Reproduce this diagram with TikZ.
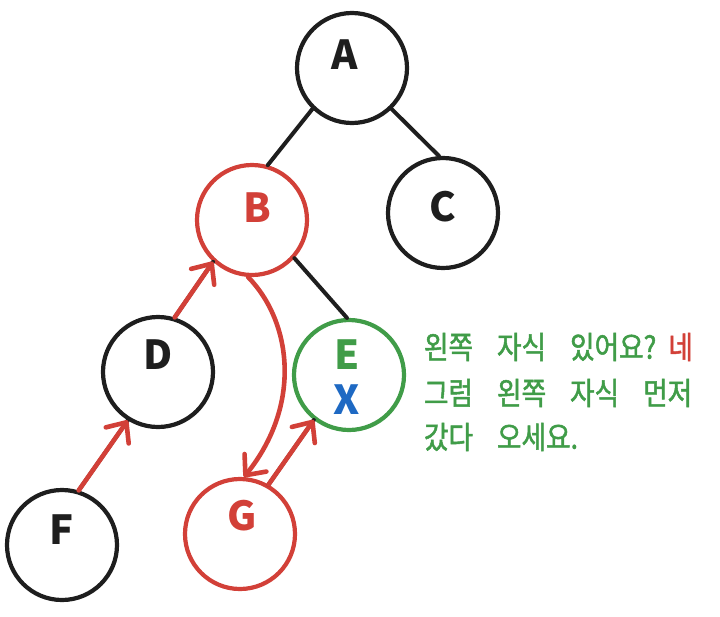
\documentclass[tikz,border=0pt]{standalone}
\usepackage{fontspec}
\usetikzlibrary{arrows.meta}
\newfontfamily\kr{Noto Sans CJK KR}
\newfontfamily\krnote[FakeStretch=0.86,FakeBold=1.6]{Noto Sans CJK KR}
\definecolor{inkblack}{RGB}{30,30,30}
\definecolor{inkred}{RGB}{210,64,56}
\definecolor{inkgreen}{RGB}{64,156,72}
\definecolor{inkblue}{RGB}{30,105,195}
\newcommand\notefont{\krnote\fontsize{31}{32}\selectfont\spaceskip=24pt\relax}

\begin{document}
\begin{tikzpicture}[x=1pt,y=-1pt,line width=4pt,line cap=round,
  tnode/.style={circle,draw=inkblack,line width=4.2pt,minimum size=110pt,inner sep=0pt},
  lbl/.style={font=\kr\bfseries\fontsize{40}{40}\selectfont,inner sep=0pt,text=inkblack},
  walk/.style={draw=inkred,line width=4.6pt,-{Straight Barb[length=16pt,width=28pt,round]}},
  note/.style={anchor=west,inner sep=0pt,text=inkgreen,font=\notefont}]
 \useasboundingbox (0,0) rectangle (720,616);
 % tree nodes
 \node[tnode] (A) at (352,68) {};
 \node[tnode,draw=inkred] (B) at (252,220) {};
 \node[tnode] (C) at (443,213) {};
 \node[tnode] (D) at (158,372) {};
 \node[tnode,draw=inkgreen] (E) at (349,375) {};
 \node[tnode] (F) at (62,545) {};
 \node[tnode,draw=inkred] (G) at (240,534) {};
 % letters
 \node[lbl] (Al) at ([shift={(-7,-13)}]A) {A};
 \node[lbl,text=inkred] (Bl) at ([shift={(5,-12)}]B) {B};
 \node[lbl] (Cl) at ([shift={(0,-6)}]C) {C};
 \node[lbl] (Dl) at ([shift={(0,-17)}]D) {D};
 \node[lbl,text=inkgreen] (El) at ([shift={(-2,-20)}]E) {E};
 \node[lbl,text=inkblue] (Ex) at ([shift={(-2,25)}]E) {X};
 \node[lbl] (Fl) at ([shift={(0,-15)}]F) {F};
 \node[lbl,text=inkred] (Gl) at ([shift={(2,-18)}]G) {G};
 % edges
 \draw[inkblack] (A.-134) -- (B.74);
 \draw[inkblack] (A.-46) -- (C.94);
 \draw[inkblack] (B.-42) -- (E.92);
 \draw[inkblack] (D.73) -- (B.-133);
 \draw[inkblack] (F.73) -- (D.-122);
 \draw[inkblack] (G.60) -- (E.-128);
 % visiting order
 \draw[walk] (D.73) -- (B.-133);
 \draw[walk] (F.73) -- (D.-122);
 \draw[walk] (G.60) -- (E.-128);
 \draw[walk] (B.266) .. controls (292,322) and (302,405) .. (G.86);
 % question
 \node[note] (q1) at (422,347) {왼쪽 자식 있어요?\hspace{12pt}\textcolor{inkred}{네}};
 \node[note] (q2) at (422,393) {그럼 왼쪽 자식 먼저};
 \node[note] (q3) at (422,437) {갔다 오세요.};
\end{tikzpicture}
\end{document}
